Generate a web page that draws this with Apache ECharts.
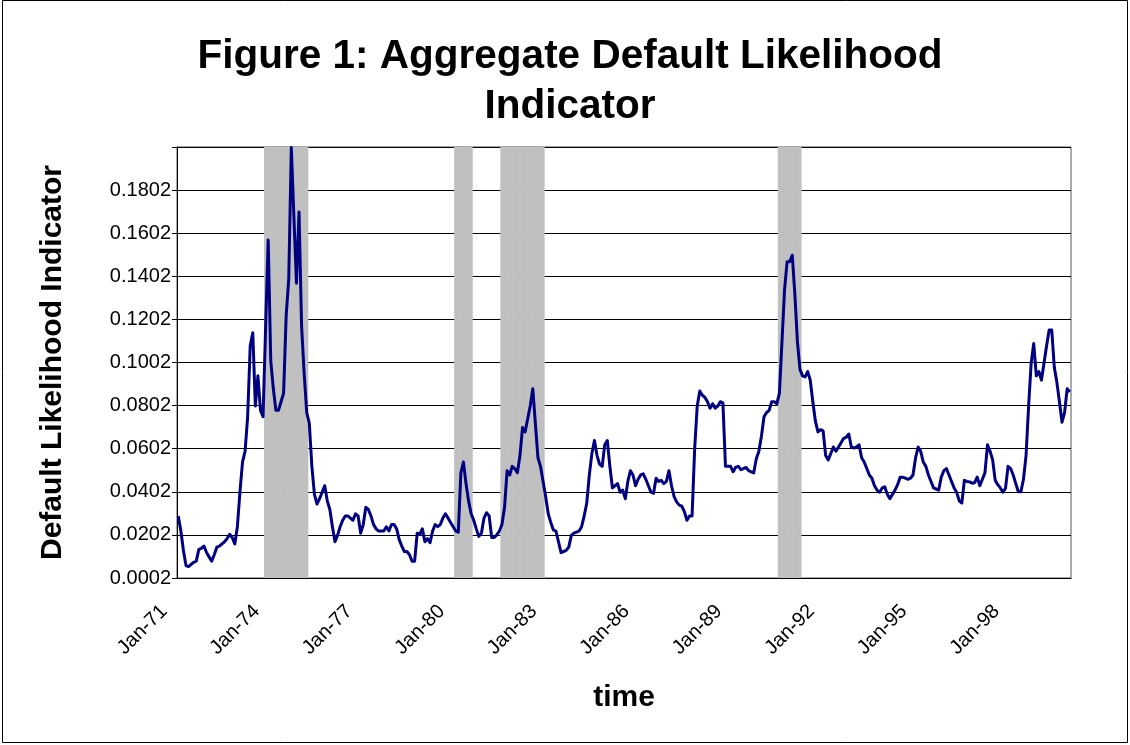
<!DOCTYPE html>
<html>
<head>
<meta charset="utf-8">
<script src="https://cdn.jsdelivr.net/npm/echarts@6/dist/echarts.min.js"></script>
<style>
  html, body { margin: 0; padding: 0; background: #fff; }
  #chart { width: 1130px; height: 745px; }
</style>
</head>
<body>
<div id="chart"></div>
<script>
// Monthly observations, Jan-1971 .. Dec-1999
const MONTH_NAMES = ['Jan','Feb','Mar','Apr','May','Jun','Jul','Aug','Sep','Oct','Nov','Dec'];
const FIRST_YEAR = 1971;
const LAST_YEAR = 1999;

// Aggregate default likelihood indicator, one value per month
const indicator = [
  // 1971
  0.029, 0.022, 0.013, 0.006, 0.0055, 0.0065, 0.0075, 0.008, 0.0135, 0.014, 0.015, 0.012,
  // 1972
  0.010, 0.008, 0.011, 0.0145, 0.015, 0.016, 0.017, 0.0185, 0.0205, 0.019, 0.016, 0.024,
  // 1973
  0.040, 0.054, 0.059, 0.075, 0.108, 0.114, 0.080, 0.094, 0.078, 0.075, 0.117, 0.157,
  // 1974
  0.101, 0.088, 0.078, 0.078, 0.082, 0.086, 0.122, 0.139, 0.200, 0.168, 0.137, 0.170,
  // 1975
  0.117, 0.095, 0.077, 0.072, 0.052, 0.039, 0.0345, 0.037, 0.040, 0.043, 0.036, 0.032,
  // 1976
  0.024, 0.017, 0.020, 0.024, 0.027, 0.029, 0.029, 0.028, 0.027, 0.030, 0.029, 0.021,
  // 1977
  0.025, 0.033, 0.032, 0.029, 0.025, 0.023, 0.022, 0.022, 0.022, 0.024, 0.022, 0.025,
  // 1978
  0.025, 0.023, 0.018, 0.015, 0.0125, 0.0125, 0.011, 0.008, 0.008, 0.021, 0.0205, 0.023,
  // 1979
  0.017, 0.0185, 0.0166, 0.022, 0.025, 0.024, 0.025, 0.028, 0.030, 0.028, 0.026, 0.024,
  // 1980
  0.022, 0.0215, 0.049, 0.054, 0.044, 0.036, 0.030, 0.027, 0.023, 0.0195, 0.021, 0.028,
  // 1981
  0.0305, 0.029, 0.019, 0.019, 0.0202, 0.022, 0.025, 0.033, 0.050, 0.048, 0.052, 0.051,
  // 1982
  0.049, 0.057, 0.070, 0.068, 0.074, 0.080, 0.088, 0.072, 0.056, 0.052, 0.045, 0.038,
  // 1983
  0.030, 0.026, 0.0225, 0.022, 0.017, 0.012, 0.0125, 0.013, 0.0145, 0.020, 0.021, 0.0215,
  // 1984
  0.022, 0.024, 0.029, 0.035, 0.048, 0.058, 0.064, 0.057, 0.053, 0.052, 0.062, 0.064,
  // 1985
  0.052, 0.042, 0.043, 0.044, 0.040, 0.041, 0.037, 0.045, 0.050, 0.048, 0.043, 0.046,
  // 1986
  0.048, 0.0485, 0.046, 0.043, 0.040, 0.0395, 0.0465, 0.045, 0.0455, 0.044, 0.045, 0.050,
  // 1987
  0.043, 0.038, 0.0355, 0.034, 0.0335, 0.031, 0.027, 0.029, 0.029, 0.060, 0.080, 0.087,
  // 1988
  0.085, 0.084, 0.082, 0.079, 0.081, 0.079, 0.080, 0.082, 0.0815, 0.052, 0.052, 0.052,
  // 1989
  0.0495, 0.0516, 0.052, 0.0505, 0.051, 0.0515, 0.050, 0.0495, 0.049, 0.0555, 0.059, 0.066,
  // 1990
  0.075, 0.077, 0.078, 0.082, 0.082, 0.081, 0.086, 0.110, 0.134, 0.147, 0.147, 0.150,
  // 1991
  0.132, 0.110, 0.097, 0.094, 0.0935, 0.096, 0.092, 0.082, 0.073, 0.068, 0.069, 0.0685,
  // 1992
  0.057, 0.055, 0.058, 0.061, 0.059, 0.061, 0.063, 0.065, 0.0655, 0.067, 0.061, 0.0605,
  // 1993
  0.061, 0.062, 0.056, 0.054, 0.051, 0.048, 0.0465, 0.043, 0.041, 0.040, 0.042, 0.0425,
  // 1994
  0.039, 0.037, 0.039, 0.041, 0.0435, 0.047, 0.047, 0.0465, 0.046, 0.0465, 0.048, 0.056,
  // 1995
  0.061, 0.059, 0.054, 0.052, 0.048, 0.045, 0.042, 0.0415, 0.041, 0.047, 0.050, 0.051,
  // 1996
  0.048, 0.045, 0.042, 0.040, 0.036, 0.035, 0.0455, 0.045, 0.0448, 0.0442, 0.0444, 0.047,
  // 1997
  0.043, 0.046, 0.049, 0.062, 0.059, 0.055, 0.0455, 0.0435, 0.042, 0.040, 0.0418, 0.052,
  // 1998
  0.051, 0.048, 0.044, 0.0402, 0.0402, 0.046, 0.057, 0.080, 0.100, 0.109, 0.094, 0.096,
  // 1999
  0.092, 0.100, 0.108, 0.1153, 0.1153, 0.098, 0.091, 0.082, 0.0725, 0.077, 0.088, 0.0865
];

// Recession periods (first and last month shaded)
const recessions = [
  ['Nov-73', 'Mar-75'],
  ['Jan-80', 'Jul-80'],
  ['Jul-81', 'Nov-82'],
  ['Jul-90', 'Mar-91']
];

// Value axis range and step
const Y_MIN = 0.0002;
const Y_MAX = 0.2002;
const Y_STEP = 0.02;

// Category labels such as "Jan-71"
const categories = [];
for (let y = FIRST_YEAR; y <= LAST_YEAR; y++) {
  for (const m of MONTH_NAMES) {
    categories.push(m + '-' + String(y % 100).padStart(2, '0'));
  }
}

// Full-height shading for every month inside a recession
const shade = categories.map(() => null);
for (const [from, to] of recessions) {
  const a = categories.indexOf(from), b = categories.indexOf(to);
  for (let i = a; i <= b; i++) shade[i] = Y_MAX;
}

const FONT = '"Liberation Sans", Arial, Helvetica, sans-serif';
const SHADE_COLOR = '#c0c0c0';

const chart = echarts.init(document.getElementById('chart'), null, { renderer: 'canvas' });
chart.setOption({
  animation: false,
  backgroundColor: '#ffffff',
  title: {
    text: 'Figure 1: Aggregate Default Likelihood\nIndicator',
    left: 565,
    top: 27,
    textAlign: 'center',
    textStyle: {
      fontFamily: FONT,
      fontSize: 40.5,
      fontWeight: 'bold',
      lineHeight: 50,
      color: '#000'
    }
  },
  graphic: [{
    type: 'rect',
    shape: { x: 2.5, y: 0.5, width: 1125, height: 742 },
    style: { fill: 'none', stroke: '#000', lineWidth: 1 },
    silent: true
  }],
  grid: {
    left: 177,
    right: 59,
    top: 147,
    bottom: 167,
    show: true,
    borderColor: '#555',
    borderWidth: 1,
    backgroundColor: 'transparent'
  },
  xAxis: {
    type: 'category',
    data: categories,
    boundaryGap: true,
    name: 'time',
    nameLocation: 'middle',
    nameGap: 105,
    nameTextStyle: { fontFamily: FONT, fontSize: 30, fontWeight: 'bold', color: '#000' },
    axisLine: { lineStyle: { color: '#000', width: 1 } },
    axisTick: { show: false },
    axisLabel: {
      interval: 35,
      rotate: 45,
      margin: 16,
      padding: [0, 20, 0, 0],
      fontFamily: FONT,
      fontSize: 20,
      color: '#000'
    },
    splitLine: { show: false }
  },
  yAxis: {
    type: 'value',
    min: Y_MIN,
    max: Y_MAX,
    interval: Y_STEP,
    name: 'Default Likelihood Indicator',
    nameLocation: 'middle',
    nameGap: 109,
    nameTextStyle: { fontFamily: FONT, fontSize: 30, fontWeight: 'bold', color: '#000' },
    axisLine: { show: true, lineStyle: { color: '#000', width: 1 } },
    axisTick: { show: true, length: 5, lineStyle: { color: '#000' } },
    axisLabel: {
      margin: 6,
      fontFamily: FONT,
      fontSize: 20,
      color: '#000',
      formatter: v => (v > Y_MAX - Y_STEP / 2 ? '' : v.toFixed(4))
    },
    splitLine: { show: true, lineStyle: { color: '#000', width: 1 } }
  },
  series: [
    {
      name: 'Recession',
      type: 'bar',
      data: shade,
      // slightly wider than one month so neighbouring months merge into one block
      barWidth: 3.2,
      itemStyle: { color: SHADE_COLOR },
      silent: true,
      z: 1
    },
    {
      name: 'Indicator',
      type: 'line',
      data: indicator,
      showSymbol: false,
      symbol: 'none',
      lineStyle: { color: '#000080', width: 3, join: 'round' },
      z: 3
    }
  ]
});
</script>
</body>
</html>
